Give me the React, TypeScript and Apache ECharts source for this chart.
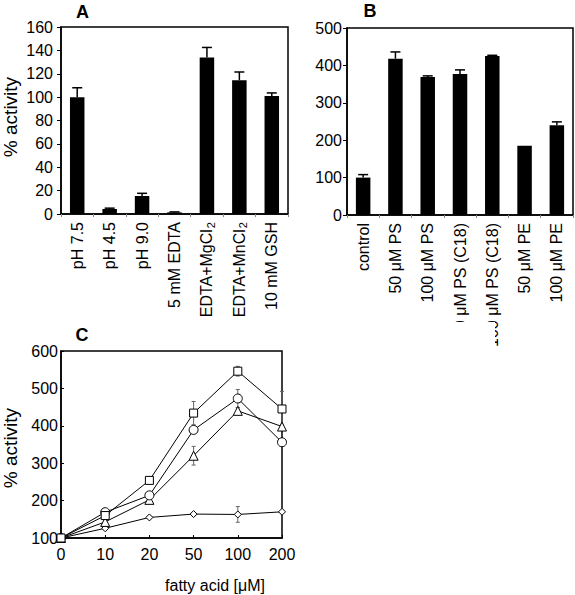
import React, { useEffect, useRef } from "react";
import * as echarts from "echarts";

const catsA = ["pH 7.5", "pH 4.5", "pH 9.0", "5 mM EDTA", "EDTA+MgCl2", "EDTA+MnCl2", "10 mM GSH"];
const valsA = [100, 4.3, 15.4, 1.4, 134, 114.5, 101];
const errTopA = [108, 5, 17.7, 1.8, 142.5, 121.5, 103.6];

const catsB = ["control", "50 μM PS", "100 μM PS", "50 μM PS (C18)", "100 μM PS (C18)", "50 μM PE", "100 μM PE"];
const valsB = [100, 418, 369, 377, 425, 185, 240];
const errTopB = [108, 436, 372, 388, 427, 185, 249];

const catsC = ["0", "10", "20", "50", "100", "200"];
const squareC = [100, 160, 254, 434, 546, 445];
const squareErr = [0, 6, 5, 31, 13, 47];
const circleC = [100, 169, 214, 389, 473, 356];
const circleErr = [0, 5, 6, 10, 24, 8];
const triangleC = [100, 143, 202, 320, 440, 398];
const triangleErr = [0, 5, 5, 25, 8, 6];
const diamondC = [100, 126, 155, 164, 163, 170];
const diamondErr = [0, 3, 3, 4, 21, 4];

const FONT = "'Liberation Sans', Arial, sans-serif";

function barErr(api: any) {
  const x = api.value(0);
  const v = api.value(1);
  const e = api.value(2);
  if (e <= v) return null;
  const p0 = api.coord([x, v]);
  const p1 = api.coord([x, e]);
  const style = { stroke: "#000", lineWidth: 1.5 };
  return {
    type: "group",
    children: [
      { type: "line", shape: { x1: p0[0], y1: p0[1], x2: p1[0], y2: p1[1] }, style },
      { type: "line", shape: { x1: p1[0] - 5, y1: p1[1], x2: p1[0] + 5, y2: p1[1] }, style },
    ],
  };
}

function lineErr(api: any) {
  const x = api.value(0);
  const v = api.value(1);
  const e = api.value(2);
  if (!e) return null;
  const lo = api.coord([x, v - e]);
  const hi = api.coord([x, v + e]);
  const style = { stroke: "#666", lineWidth: 1 };
  return {
    type: "group",
    children: [
      { type: "line", shape: { x1: lo[0], y1: lo[1], x2: hi[0], y2: hi[1] }, style },
      { type: "line", shape: { x1: lo[0] - 2, y1: lo[1], x2: lo[0] + 2, y2: lo[1] }, style },
      { type: "line", shape: { x1: hi[0] - 2, y1: hi[1], x2: hi[0] + 2, y2: hi[1] }, style },
    ],
  };
}

export default function App() {
  const ref = useRef<HTMLDivElement>(null);
  useEffect(() => {
    if (!ref.current) return;
    const chart = echarts.init(ref.current, null, { renderer: "svg" });
    const axisLine = { show: true, lineStyle: { color: "#000", width: 1.5 } };
    const labelStyle = { color: "#000", fontSize: 16, fontFamily: FONT };
    const rotLabel = { color: "#000", fontSize: 16, fontFamily: FONT, rotate: 90, margin: 8, interval: 0 };
    const rotLabelA = {
      ...rotLabel,
      formatter: (v: string) => (/Cl2$/.test(v) ? v.slice(0, -1) + "{sub|2}" : v),
      rich: {
        sub: { fontSize: 11, fontFamily: FONT, color: "#000", padding: [8, 0, 0, 1], verticalAlign: "bottom" },
      },
    };
    const lineSeries = (data: number[], symbol: string, size: number) => ({
      type: "line",
      xAxisIndex: 2,
      yAxisIndex: 2,
      data,
      symbol,
      symbolSize: size,
      showSymbol: true,
      z: 3,
      lineStyle: { color: "#000", width: 1 },
      itemStyle: { color: "#fff", borderColor: "#000", borderWidth: 1 },
    });
    const errSeries = (vals: number[], errs: number[]) => ({
      type: "custom",
      xAxisIndex: 2,
      yAxisIndex: 2,
      z: 2,
      renderItem: (_p: any, api: any) => lineErr(api),
      data: vals.map((v, i) => [i, v, errs[i]]),
    });
    chart.setOption({
      animation: false,
      backgroundColor: "#fff",
      grid: [
        { left: 61, top: 27, width: 227, height: 187, show: true, borderColor: "#000", borderWidth: 1.5 },
        { left: 347, top: 28, width: 226, height: 187, show: true, borderColor: "#000", borderWidth: 1.5 },
        { left: 61, top: 351, width: 221, height: 187, show: true, borderColor: "#000", borderWidth: 1.5 },
      ],
      xAxis: [
        {
          type: "category", gridIndex: 0, data: catsA,
          axisLine, axisTick: { show: true, length: 3, lineStyle: { color: "#888" } },
          axisLabel: rotLabelA,
        },
        {
          type: "category", gridIndex: 1, data: catsB,
          axisLine, axisTick: { show: true, length: 3, lineStyle: { color: "#888" } },
          axisLabel: rotLabel,
        },
        {
          type: "category", gridIndex: 2, data: catsC, boundaryGap: false,
          axisLine, axisTick: { show: true, inside: true, length: 3, lineStyle: { color: "#000" } },
          axisLabel: { ...labelStyle, margin: 8, interval: 0 },
        },
      ],
      yAxis: [
        {
          type: "value", gridIndex: 0, min: 0, max: 160, interval: 20,
          axisLine, splitLine: { show: false },
          axisTick: { show: true, length: 4, lineStyle: { color: "#000" } },
          axisLabel: { ...labelStyle, margin: 8 },
        },
        {
          type: "value", gridIndex: 1, min: 0, max: 500, interval: 100,
          axisLine, splitLine: { show: false },
          axisTick: { show: true, length: 4, lineStyle: { color: "#000" } },
          axisLabel: { ...labelStyle, margin: 5 },
        },
        {
          type: "value", gridIndex: 2, min: 100, max: 600, interval: 100,
          axisLine, splitLine: { show: false },
          axisTick: { show: true, inside: true, length: 3, lineStyle: { color: "#000" } },
          axisLabel: { ...labelStyle, margin: 3 },
        },
      ],
      series: [
        { type: "bar", xAxisIndex: 0, yAxisIndex: 0, data: valsA, barWidth: 14.5, itemStyle: { color: "#000" } },
        {
          type: "custom", xAxisIndex: 0, yAxisIndex: 0, z: 3,
          renderItem: (_p: any, api: any) => barErr(api),
          data: valsA.map((v, i) => [i, v, errTopA[i]]),
        },
        { type: "bar", xAxisIndex: 1, yAxisIndex: 1, data: valsB, barWidth: 14.5, itemStyle: { color: "#000" } },
        {
          type: "custom", xAxisIndex: 1, yAxisIndex: 1, z: 3,
          renderItem: (_p: any, api: any) => barErr(api),
          data: valsB.map((v, i) => [i, v, errTopB[i]]),
        },
        errSeries(squareC, squareErr),
        errSeries(circleC, circleErr),
        errSeries(triangleC, triangleErr),
        errSeries(diamondC, diamondErr),
        lineSeries(diamondC, "diamond", 7),
        lineSeries(triangleC, "triangle", 9),
        lineSeries(circleC, "circle", 9),
        lineSeries(squareC, "rect", 8),
      ],
      graphic: [
        { type: "text", x: 82.5, y: 12, z: 10, style: { text: "A", font: `bold 18px ${FONT}`, fill: "#000", textAlign: "center", textVerticalAlign: "middle" } },
        { type: "text", x: 370, y: 11, z: 10, style: { text: "B", font: `bold 18px ${FONT}`, fill: "#000", textAlign: "center", textVerticalAlign: "middle" } },
        { type: "text", x: 82, y: 335, z: 10, style: { text: "C", font: `bold 18px ${FONT}`, fill: "#000", textAlign: "center", textVerticalAlign: "middle" } },
        { type: "text", x: 10, y: 117, rotation: Math.PI / 2, z: 10, style: { text: "% activity", font: `19px ${FONT}`, fill: "#000", textAlign: "center", textVerticalAlign: "middle" } },
        { type: "text", x: 10, y: 448, rotation: Math.PI / 2, z: 10, style: { text: "% activity", font: `19px ${FONT}`, fill: "#000", textAlign: "center", textVerticalAlign: "middle" } },
        { type: "text", x: 215, y: 585, z: 10, style: { text: "fatty acid [μM]", font: `16px ${FONT}`, fill: "#000", textAlign: "center", textVerticalAlign: "middle" } },
        { type: "rect", shape: { x: 420, y: 322, width: 75, height: 60 }, z: 20, style: { fill: "#fff" } },
      ],
    });
    return () => chart.dispose();
  }, []);
  return <div ref={ref} style={{ position: "absolute", left: 0, top: 0, width: 575, height: 595 }} />;
}
